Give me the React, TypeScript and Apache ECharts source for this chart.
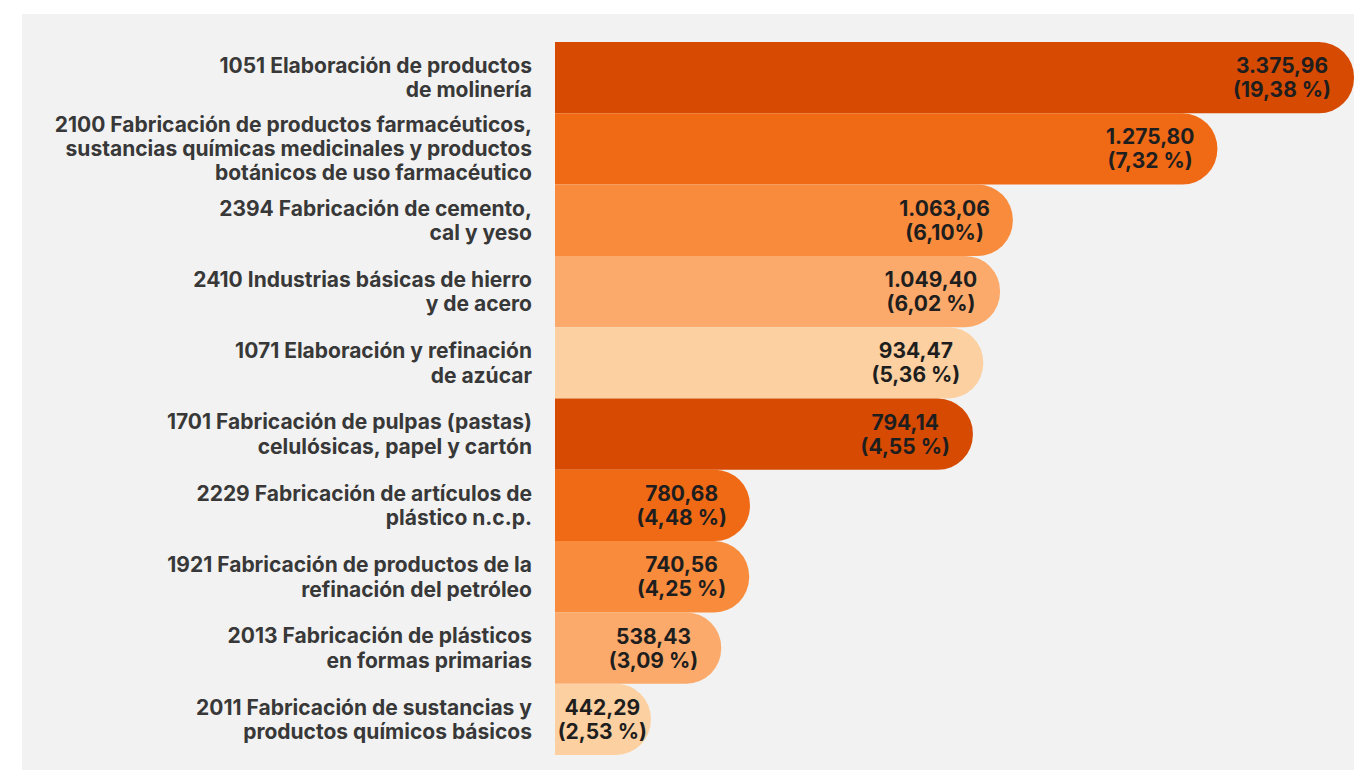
import React, { useEffect, useRef } from "react";
import * as echarts from "echarts";

const categories: string[] = [
  "1051 Elaboración de productos\nde molinería",
  "2100 Fabricación de productos farmacéuticos,\nsustancias químicas medicinales y productos\nbotánicos de uso farmacéutico",
  "2394 Fabricación de cemento,\ncal y yeso",
  "2410 Industrias básicas de hierro\ny de acero",
  "1071 Elaboración y refinación\nde azúcar",
  "1701 Fabricación de pulpas (pastas)\ncelulósicas, papel y cartón",
  "2229 Fabricación de artículos de\nplástico n.c.p.",
  "1921 Fabricación de productos de la\nrefinación del petróleo",
  "2013 Fabricación de plásticos\nen formas primarias",
  "2011 Fabricación de sustancias y\nproductos químicos básicos",
];

const values: number[] = [3375.96, 1275.8, 1063.06, 1049.4, 934.47, 794.14, 780.68, 740.56, 538.43, 442.29];

const shareLabels: string[] = ["19,38 %", "7,32 %", "6,10%", "6,02 %", "5,36 %", "4,55 %", "4,48 %", "4,25 %", "3,09 %", "2,53 %"];

// Displayed bar lengths (the reference's bars are not proportional to the values), in % of the longest bar
const barLengths: number[] = [100, 82.9, 57.3, 55.7, 53.6, 52.3, 24.4, 24.3, 20.8, 12.0];

const palette: string[] = ["#d64a02", "#f06a16", "#f98b3c", "#fbaa6b", "#fcd0a0"];

function fmt(v: number): string {
  const [i, d] = v.toFixed(2).split(".");
  const g = i.replace(/\B(?=(\d{3})+(?!\d))/g, ".");
  return g + "," + d;
}

export default function App() {
  const ref = useRef<HTMLDivElement>(null);
  useEffect(() => {
    if (!ref.current) return;
    const chart = echarts.init(ref.current, undefined, { renderer: "svg" });
    const font = "Inter, 'Noto Sans', sans-serif";
    chart.setOption({
      animation: false,
      grid: { left: 555, right: 0, top: 42, bottom: 15, containLabel: false },
      xAxis: { type: "value", min: 0, max: 100, show: false },
      yAxis: {
        type: "category",
        inverse: true,
        data: categories,
        axisLine: { show: false },
        axisTick: { show: false },
        splitLine: { show: false },
        axisLabel: {
          margin: 23,
          align: "right",
          formatter: (v: string) => (v.split("\n").length > 2 ? `{b|${v}}` : `{a|${v}}`),
          rich: {
            a: { fontFamily: font, fontWeight: 700, fontSize: 21, lineHeight: 24.5, color: "#383838", align: "right" },
            b: { fontFamily: font, fontWeight: 700, fontSize: 21, lineHeight: 24, color: "#383838", align: "right" },
          },
        },
      },
      series: [
        {
          type: "bar",
          barCategoryGap: 0,
          data: barLengths.map((v, i) => ({
            value: v,
            itemStyle: { color: palette[i % palette.length], borderRadius: [0, 35, 35, 0] },
            label: i === barLengths.length - 1 ? { distance: 4 } : undefined,
          })),
          label: {
            show: true,
            position: "insideRight",
            distance: 23,
            formatter: (p: any) => `{v|${fmt(values[p.dataIndex])}\n(${shareLabels[p.dataIndex]})}`,
            rich: {
              v: { fontFamily: font, fontWeight: 700, fontSize: 21, lineHeight: 24, color: "#1e1e1e", align: "center" },
            },
          },
        },
      ],
    });
    return () => chart.dispose();
  }, []);
  return (
    <div style={{ position: "absolute", left: 0, top: 0, width: 1354, height: 770, background: "#ffffff" }}>
      <div style={{ position: "absolute", left: 22, top: 14, width: 1332, height: 756, background: "#f2f2f2" }} />
      <div ref={ref} style={{ position: "absolute", left: 0, top: 0, width: 1354, height: 770 }} />
    </div>
  );
}
